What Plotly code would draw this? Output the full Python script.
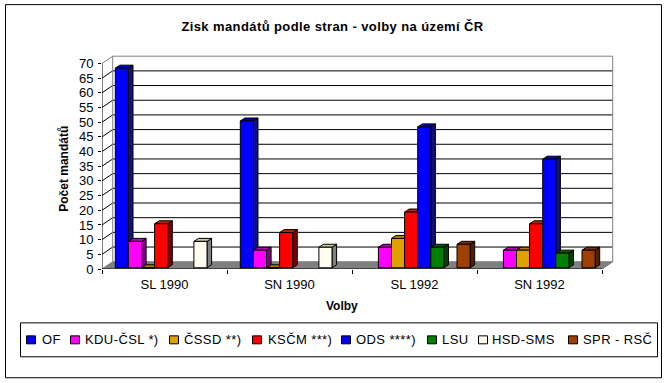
import plotly.graph_objects as go

W, H = 669, 383
categories = ["SL 1990", "SN 1990", "SL 1992", "SN 1992"]
parties = ["OF", "KDU-ČSL *)", "ČSSD **)", "KSČM ***)", "ODS ****)", "LSU", "HSD-SMS", "SPR - RSČ"]
of_values = [68, 50, None, None]
kdu_values = [9, 6, 7, 6]
cssd_values = [0, 0, 10, 6]
kscm_values = [15, 12, 19, 15]
ods_values = [None, None, 48, 37]
lsu_values = [None, None, 7, 5]
hsd_values = [9, 7, None, None]
spr_values = [None, None, 8, 6]
series_values = [of_values, kdu_values, cssd_values, kscm_values, ods_values, lsu_values, hsd_values, spr_values]
front_colors = ["#0000FF", "#FF00FF", "#E0A000", "#FF0000", "#0000FF", "#008000", "#FFFBF0", "#A04000"]
side_colors = ["#101080", "#800080", "#806000", "#800000", "#101080", "#004000", "#808080", "#502000"]
top_colors = ["#0000C0", "#C000C0", "#B08000", "#C02000", "#0000C0", "#006000", "#C8C8A0", "#803000"]
y_ticks = list(range(0, 75, 5))
legend_swatch_x = [26, 70, 169, 252, 341, 427, 478, 568]
legend_text_x = [41, 84, 183, 266.7, 355, 440.5, 490.7, 581.7]

# plot geometry (pixels)
PL, PR, PT, PB = 102, 602, 63.5, 269.5
AREA_R, AREA_T = 614, 55
xu, yu = (PR - PL) / 4, (PB - PT) / 70
WALL_X, WALL_Y = 10.7 / xu, 7.3 / yu
BAR_W = 13.1 / xu
BAR_START = 13.3 / xu
BAR_BASE = 1.2 / yu
DEPTH_X, DEPTH_Y = 4.6 / xu, 3.0 / yu
FONT = "Liberation Sans"


def px(x):
    return (x - PL) / (AREA_R - PL)


def py(y):
    return (PB - y) / (PB - AREA_T)


def spaced(text, sp):
    return f'<span style="letter-spacing:{sp}px">{text}</span>'


fig = go.Figure()


def poly(xs, ys, fill, line="#000000", width=1):
    fig.add_trace(go.Scatter(x=xs, y=ys, mode="lines", fill="toself", fillcolor=fill,
                             line=dict(color=line, width=width), hoverinfo="skip",
                             showlegend=False, xaxis="x", yaxis="y"))


def lines(xs, ys, color):
    fig.add_trace(go.Scatter(x=xs, y=ys, mode="lines", line=dict(color=color, width=1),
                             hoverinfo="skip", showlegend=False, xaxis="x", yaxis="y"))


x0, x1 = -0.5, 3.5
x_range = [x0, x0 + (AREA_R - PL) / xu]
y_range = [0, (PB - AREA_T) / yu]
# floor
poly([x0, x1, x1 + WALL_X, x0 + WALL_X, x0], [0, 0, WALL_Y, WALL_Y, 0], "#808080", "#808080")
# gridlines on side wall and back wall
gx, gy = [], []
for t in y_ticks[1:-1]:
    gx += [x0, x0 + WALL_X, x1 + WALL_X, None]
    gy += [t, t + WALL_Y, t + WALL_Y, None]
lines(gx, gy, "#000000")
# wall outline
lines([x0, x0 + WALL_X, x1 + WALL_X, x1 + WALL_X, x1],
      [70, 70 + WALL_Y, 70 + WALL_Y, WALL_Y, 0], "#808080")
lines([x0 + WALL_X, x0 + WALL_X], [70 + WALL_Y, WALL_Y], "#808080")
# front axis lines
lines([x0, x0, x1], [70, 0, 0], "#000000")

# depth faces of the bars
for k, values in enumerate(series_values):
    sx, sy, tx, ty = [], [], [], []
    for c, v in enumerate(values):
        if v is None:
            continue
        L = c - 0.5 + BAR_START + k * BAR_W
        R = L + BAR_W
        B = BAR_BASE
        T = BAR_BASE + v
        tx += [L, R, R + DEPTH_X, L + DEPTH_X, L, None]
        ty += [T, T, T + DEPTH_Y, T + DEPTH_Y, T, None]
        sx += [R, R + DEPTH_X, R + DEPTH_X, R, R, None]
        sy += [B, B + DEPTH_Y, T + DEPTH_Y, T, B, None]
    poly(sx, sy, side_colors[k])
    poly(tx, ty, top_colors[k])

# front faces
for k, values in enumerate(series_values):
    fig.add_trace(go.Bar(x=categories, y=values, base=BAR_BASE, name=parties[k],
                         width=BAR_W, offset=-0.5 + BAR_START + k * BAR_W,
                         marker=dict(color=front_colors[k], line=dict(color="#000000", width=1)),
                         showlegend=False, xaxis="x2", yaxis="y2"))

shapes = [
    dict(type="rect", xref="paper", yref="paper", x0=px(5.5), x1=px(661.5), y0=py(378.5), y1=py(4.5),
         line=dict(color="#000000", width=1), layer="below", fillcolor="#FFFFFF"),
    dict(type="rect", xref="paper", yref="paper", x0=px(20.5), x1=px(657.5), y0=py(357.5), y1=py(323.5),
         line=dict(color="#000000", width=1)),
]
annotations = [
    dict(text="<b>Volby</b>", xref="paper", yref="paper", x=px(342), y=py(306.5), showarrow=False,
         xanchor="center", yanchor="middle", font=dict(family=FONT, size=12, color="#000000")),
    dict(text="<b>Počet mandátů</b>", xref="paper", yref="paper", x=px(64.5), y=py(169.5), showarrow=False,
         textangle=-90, xanchor="center", yanchor="middle", font=dict(family=FONT, size=12, color="#000000")),
]
for k, name in enumerate(parties):
    shapes.append(dict(type="rect", xref="paper", yref="paper",
                       x0=px(legend_swatch_x[k] + 0.5), x1=px(legend_swatch_x[k] + 9.5),
                       y0=py(344.5), y1=py(336.5), fillcolor=front_colors[k],
                       line=dict(color="#000000", width=1)))
    annotations.append(dict(text=spaced(name, 0.4), xref="paper", yref="paper",
                            x=px(legend_text_x[k] - 1), y=py(340.5),
                            xanchor="left", yanchor="middle", showarrow=False,
                            font=dict(family=FONT, size=13, color="#000000")))

fig.update_layout(
    width=W, height=H, autosize=False,
    margin=dict(l=PL, r=W - AREA_R, t=AREA_T, b=H - PB, pad=0),
    paper_bgcolor="#FFFFFF", plot_bgcolor="rgba(0,0,0,0)",
    barmode="overlay", showlegend=False,
    title=dict(text="<b>" + spaced("Zisk mandátů podle stran - volby na území ČR", 0.4) + "</b>",
               x=332.5 / W, y=1 - 26 / H, xanchor="center", yanchor="middle",
               xref="container", yref="container",
               font=dict(family=FONT, size=13, color="#000000")),
    font=dict(family=FONT, size=13, color="#000000"),
    shapes=shapes, annotations=annotations,
    xaxis=dict(range=x_range, visible=False, fixedrange=True),
    yaxis=dict(range=y_range, visible=False, fixedrange=True),
    xaxis2=dict(type="category", categoryorder="array", categoryarray=categories, range=x_range,
                overlaying="x", anchor="y2", side="bottom", tickson="boundaries", ticks="outside",
                ticklen=4, tickcolor="#000000", showgrid=False, zeroline=False, showline=False,
                ticklabelstandoff=6, tickfont=dict(family=FONT, size=13), fixedrange=True),
    yaxis2=dict(range=y_range, overlaying="y", anchor="x2", side="left", tickvals=y_ticks,
                ticks="outside", ticklen=3, tickcolor="#000000", showgrid=False, zeroline=False,
                showline=False, ticklabelstandoff=2, tickfont=dict(family=FONT, size=13), fixedrange=True),
)
fig.write_html("out.html", config=dict(displayModeBar=False),
               post_script="document.body.style.margin='0';")
